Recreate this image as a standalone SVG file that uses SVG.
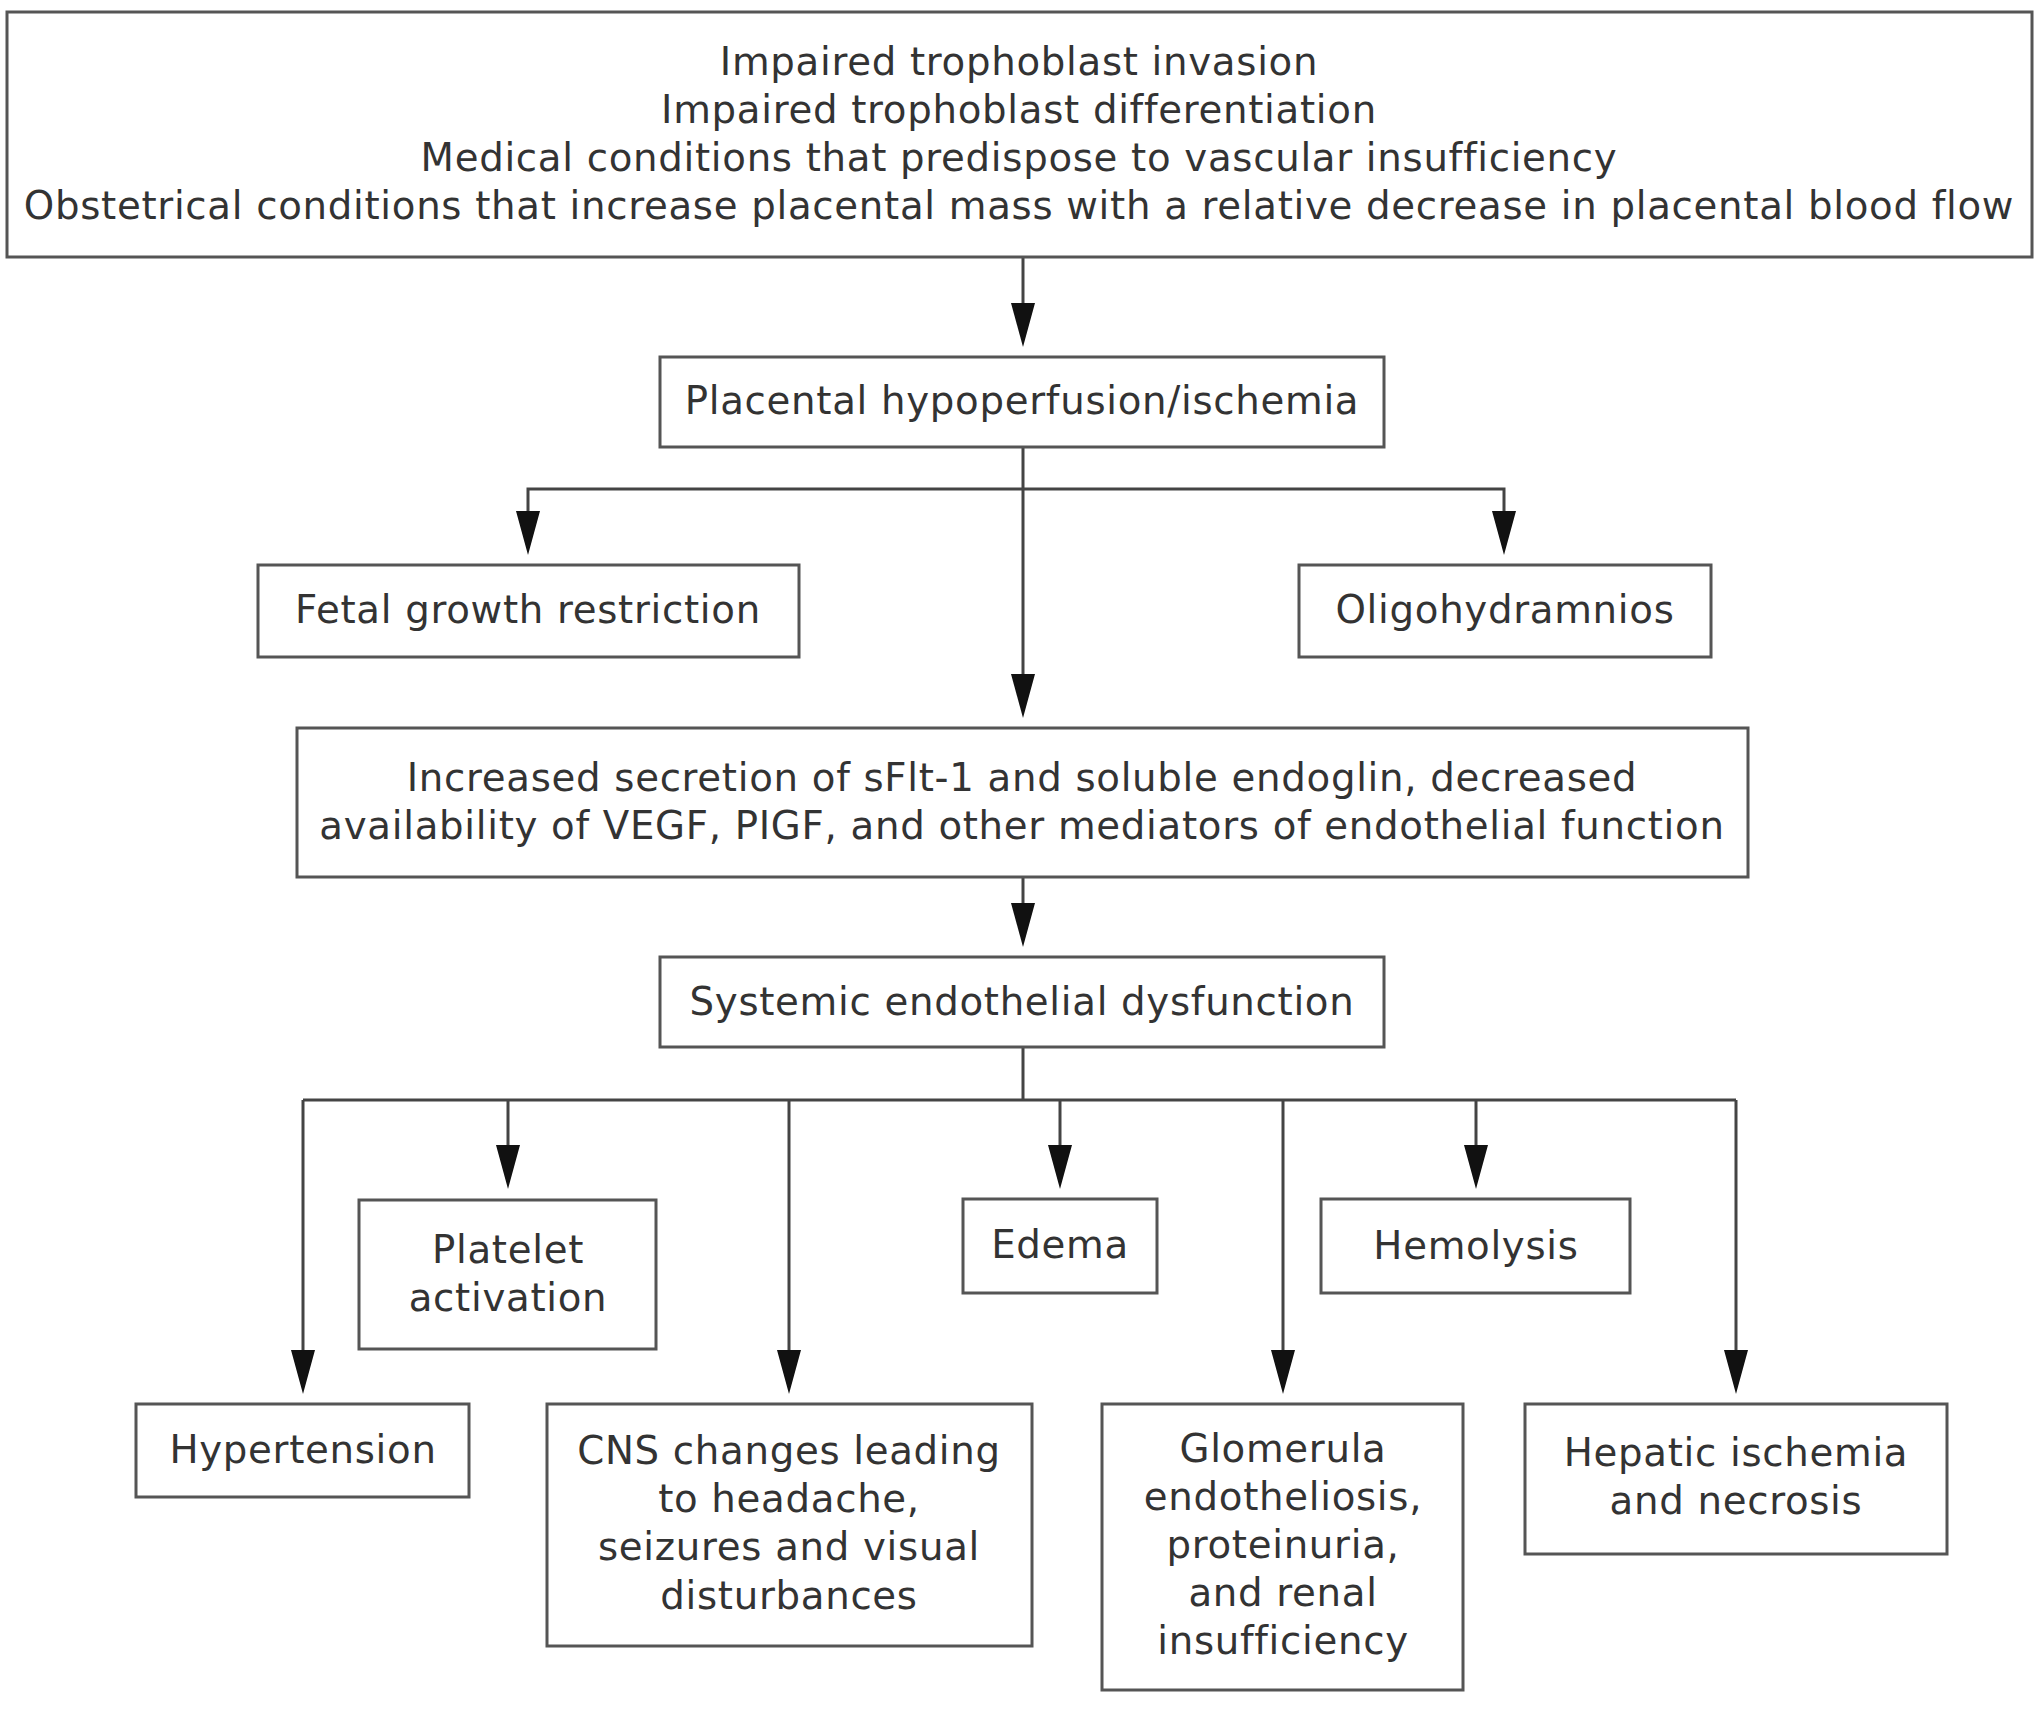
<svg xmlns="http://www.w3.org/2000/svg" width="2036" height="1724" viewBox="0 0 2036 1724">
<style>
.box{fill:#fff;stroke:#555;stroke-width:3}
.t{font-family:"DejaVu Sans",Verdana,sans-serif;font-size:38.7px;letter-spacing:0.7px;fill:#333;text-anchor:middle}
.c{fill:none;stroke:#444;stroke-width:3}
</style>
<defs>
<marker id="ah" markerUnits="userSpaceOnUse" markerWidth="46" markerHeight="26" refX="34" refY="13" orient="auto" viewBox="0 0 46 26">
<path d="M0,1 L44,13 L0,25 z" fill="#111"/>
</marker>
</defs>
<rect width="2036" height="1724" fill="#fff"/>
<g id="connectors">
<path class="c" d="M1023,257 V337" marker-end="url(#ah)"/>
<path class="c" d="M1023,447 V708"  marker-end="url(#ah)"/>
<path class="c" d="M1023,489 H528 V545" marker-end="url(#ah)"/>
<path class="c" d="M1023,489 H1504 V545" marker-end="url(#ah)"/>
<path class="c" d="M1023,877 V937" marker-end="url(#ah)"/>
<path class="c" d="M1023,1047 V1100 M303,1100 H1736"/>
<path class="c" d="M303,1100 V1384" marker-end="url(#ah)"/>
<path class="c" d="M508,1100 V1179" marker-end="url(#ah)"/>
<path class="c" d="M789,1100 V1384" marker-end="url(#ah)"/>
<path class="c" d="M1060,1100 V1179" marker-end="url(#ah)"/>
<path class="c" d="M1283,1100 V1384" marker-end="url(#ah)"/>
<path class="c" d="M1476,1100 V1179" marker-end="url(#ah)"/>
<path class="c" d="M1736,1100 V1384" marker-end="url(#ah)"/>
</g>
<g id="causes">
<rect class="box" x="7" y="12" width="2025" height="245"/>
<text class="t" x="1019" y="75">Impaired trophoblast invasion</text>
<text class="t" x="1019" y="123">Impaired trophoblast differentiation</text>
<text class="t" x="1019" y="171">Medical conditions that predispose to vascular insufficiency</text>
<text class="t" x="1019" y="219">Obstetrical conditions that increase placental mass with a relative decrease in placental blood flow</text>
</g>
<g id="placental">
<rect class="box" x="660" y="357" width="724" height="90"/>
<text class="t" x="1022" y="414">Placental hypoperfusion/ischemia</text>
</g>
<g id="fgr">
<rect class="box" x="258" y="565" width="541" height="92"/>
<text class="t" x="528" y="623">Fetal growth restriction</text>
</g>
<g id="oligo">
<rect class="box" x="1299" y="565" width="412" height="92"/>
<text class="t" x="1505" y="623">Oligohydramnios</text>
</g>
<g id="secretion">
<rect class="box" x="297" y="728" width="1451" height="149"/>
<text class="t" x="1022" y="791">Increased secretion of sFlt-1 and soluble endoglin, decreased</text>
<text class="t" x="1022" y="839">availability of VEGF, PIGF, and other mediators of endothelial function</text>
</g>
<g id="systemic">
<rect class="box" x="660" y="957" width="724" height="90"/>
<text class="t" x="1022" y="1015">Systemic endothelial dysfunction</text>
</g>
<g id="platelet">
<rect class="box" x="359" y="1200" width="297" height="149"/>
<text class="t" x="508" y="1263">Platelet</text>
<text class="t" x="508" y="1311">activation</text>
</g>
<g id="edema">
<rect class="box" x="963" y="1199" width="194" height="94"/>
<text class="t" x="1060" y="1258">Edema</text>
</g>
<g id="hemolysis">
<rect class="box" x="1321" y="1199" width="309" height="94"/>
<text class="t" x="1476" y="1259">Hemolysis</text>
</g>
<g id="hypertension">
<rect class="box" x="136" y="1404" width="333" height="93"/>
<text class="t" x="303" y="1463">Hypertension</text>
</g>
<g id="cns">
<rect class="box" x="547" y="1404" width="485" height="242"/>
<text class="t" x="789" y="1464">CNS changes leading</text>
<text class="t" x="789" y="1512">to headache,</text>
<text class="t" x="789" y="1560">seizures and visual</text>
<text class="t" x="789" y="1609">disturbances</text>
</g>
<g id="glomerula">
<rect class="box" x="1102" y="1404" width="361" height="286"/>
<text class="t" x="1283" y="1462">Glomerula</text>
<text class="t" x="1283" y="1510">endotheliosis,</text>
<text class="t" x="1283" y="1558">proteinuria,</text>
<text class="t" x="1283" y="1606">and renal</text>
<text class="t" x="1283" y="1654">insufficiency</text>
</g>
<g id="hepatic">
<rect class="box" x="1525" y="1404" width="422" height="150"/>
<text class="t" x="1736" y="1466">Hepatic ischemia</text>
<text class="t" x="1736" y="1514">and necrosis</text>
</g>
</svg>
